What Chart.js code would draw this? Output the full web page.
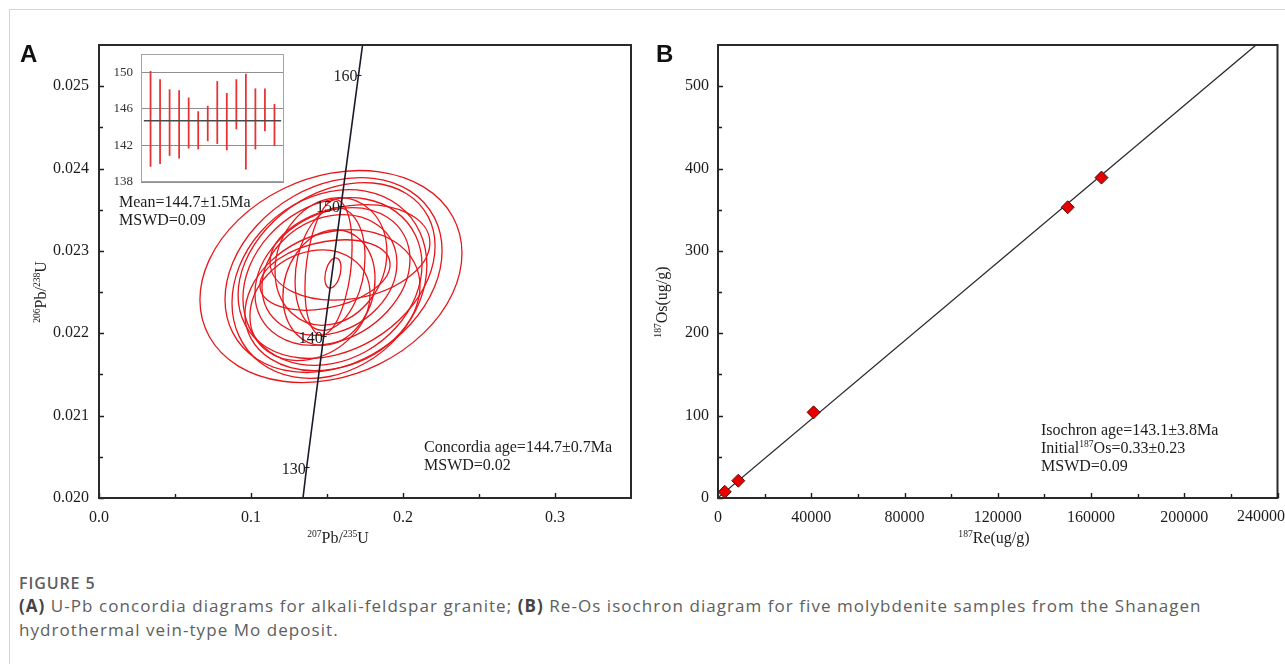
<!DOCTYPE html>
<html>
<head>
<meta charset="utf-8">
<script src="https://cdn.jsdelivr.net/npm/chart.js@4.4.1/dist/chart.umd.min.js"></script>
<style>
  html, body { margin: 0; padding: 0; background: #fff; }
  #page { position: relative; width: 1285px; height: 664px; overflow: hidden; }
  #frame { position: absolute; left: 9px; top: 9px; width: 1400px; height: 800px;
           border-left: 1px solid #d4d4d4; border-top: 1px solid #d4d4d4; }
  canvas { position: absolute; }
  .panel { position: absolute; font: bold 24px "Liberation Sans", Arial, sans-serif; line-height: 24px; color: #111; }
  #caption { position: absolute; left: 19px; top: 573px; font-family: "Open Sans", sans-serif; color: #5e5e5e; }
  #caption .fig { font-size: 16px; font-weight: 600; line-height: 20px; letter-spacing: 0.9px; }
  #caption .txt { font-size: 17px; line-height: 24px; margin-top: 1px; white-space: nowrap; letter-spacing: 1.05px; }
  #caption b { font-weight: 700; color: #444; }
</style>
</head>
<body>
<div id="page">
  <div id="frame"></div>
  <canvas id="chartA" width="645" height="560" style="left:0;top:0"></canvas>
  <canvas id="inset" width="190" height="142" style="left:100px;top:48px"></canvas>
  <canvas id="chartB" width="640" height="560" style="left:645px;top:0"></canvas>
  <div class="panel" style="left:20px;top:42px">A</div>
  <div class="panel" style="left:656px;top:42px">B</div>
  <div id="caption">
    <div class="fig">FIGURE 5</div>
    <div class="txt"><b>(A)</b> U-Pb concordia diagrams for alkali-feldspar granite; <b>(B)</b> Re-Os isochron diagram for five molybdenite samples from the Shanagen<br>hydrothermal vein-type Mo deposit.</div>
  </div>
</div>
<script>
// ---- A: U-Pb concordia ----
const concordiaX = [0.1342, 0.1366, 0.1478, 0.1592, 0.1707, 0.1734];
const concordiaY = [0.0200, 0.02037, 0.02196, 0.02354, 0.02513, 0.0255];
const concordiaAges = ['', '130', '140', '150', '160', ''];

// error ellipses: centre, x half-extent, y half-extent, correlation
const ellX   = [0.1526, 0.1543, 0.1516, 0.1563, 0.1536, 0.1536, 0.1516, 0.1526, 0.1513, 0.1520, 0.1510, 0.1487, 0.1539, 0.1536, 0.1651, 0.1388];
const ellY   = [0.022689, 0.022707, 0.022598, 0.022762, 0.022628, 0.022689, 0.022707, 0.022872, 0.022555, 0.022780, 0.022799, 0.022707, 0.022732, 0.022402, 0.022982, 0.022341];
const ellSx  = [0.0862, 0.0714, 0.0641, 0.0648, 0.0589, 0.0510, 0.0444, 0.0368, 0.0303, 0.0230, 0.0155, 0.0428, 0.0053, 0.0576, 0.0526, 0.0395];
const ellSy  = [0.001287, 0.001183, 0.001146, 0.001067, 0.001018, 0.000835, 0.000732, 0.000774, 0.000701, 0.000744, 0.000823, 0.000427, 0.000183, 0.000854, 0.000579, 0.000671];
const ellRho = [0.22, 0.25, 0.20, 0.28, 0.20, 0.25, 0.20, 0.15, 0.15, 0.20, 0.30, 0.30, 0.35, 0.20, 0.20, 0.20];

const xTicksA = [0, 0.1, 0.2, 0.3];
const xMinorA = [0.05, 0.15, 0.25];
const yTicksA = [0.020, 0.021, 0.022, 0.023, 0.024, 0.025];
const yMinorA = [0.0205, 0.0215, 0.0225, 0.0235, 0.0245];

// inset: weighted mean of spot ages (Ma)
const spotNo   = [1, 2, 3, 4, 5, 6, 7, 8, 9, 10, 11, 12, 13, 14];
const ageLow   = [139.7, 140.0, 140.9, 140.6, 141.7, 141.6, 142.5, 142.2, 141.5, 143.8, 139.4, 141.6, 143.6, 142.0];
const ageHigh  = [150.1, 149.2, 148.1, 148.0, 147.2, 145.7, 146.3, 149.0, 147.7, 149.2, 149.8, 148.2, 148.2, 146.5];
const meanAge  = 144.7;
const insetTicks = [138, 142, 146, 150];

// ---- B: Re-Os isochron ----
const re187 = [2900, 8700, 41000, 150000, 164500];
const os187 = [7.5, 21, 104, 353, 389];
const isoX  = [0, 230800];
const isoY  = [0.33, 550];

const xTicksB = [0, 40000, 80000, 120000, 160000, 200000, 240000];
const xMinorB = [20000, 60000, 100000, 140000, 180000, 220000];
const yTicksB = [0, 100, 200, 300, 400, 500];
const yMinorB = [50, 150, 250, 350, 450];

const SERIF = "'Liberation Serif', 'Times New Roman', serif";
const INK = '#1c1c1c';
const RED = '#e8161b';

function fixBox(size) {
  return s => {
    if (s.isHorizontal()) s.height = size; else s.width = size;
    s.paddingLeft = s.paddingRight = s.paddingTop = s.paddingBottom = 0;
  };
}
function setTicks(list) {
  return s => { s.ticks = list.map(v => ({ value: v })); };
}

// text with superscript parts: [[text, isSup], ...], y is the baseline
function drawRich(ctx, parts, x, y, size, align) {
  const widths = parts.map(([t, sup]) => {
    ctx.font = (sup ? size * 0.6 : size) + 'px ' + SERIF;
    return ctx.measureText(t).width;
  });
  const total = widths.reduce((s, w) => s + w, 0);
  let cx = align === 'center' ? x - total / 2 : align === 'right' ? x - total : x;
  ctx.textAlign = 'left';
  ctx.textBaseline = 'alphabetic';
  parts.forEach(([t, sup], i) => {
    ctx.font = (sup ? size * 0.6 : size) + 'px ' + SERIF;
    ctx.fillText(t, cx, sup ? y - size * 0.36 : y);
    cx += widths[i];
  });
}

// frame + inward ticks
const frameTicks = {
  id: 'frameTicks',
  afterDraw(chart, args, o) {
    const { ctx, chartArea: a, scales: { x, y } } = chart;
    ctx.save();
    ctx.strokeStyle = INK;
    ctx.lineWidth = 1.4;
    ctx.beginPath();
    o.xMajor.concat(o.xMinor).forEach((v, i) => {
      const px = Math.round(x.getPixelForValue(v)) + 0.5;
      const len = i < o.xMajor.length ? 5 : 4;
      ctx.moveTo(px, a.bottom); ctx.lineTo(px, a.bottom - len);
    });
    o.yMajor.concat(o.yMinor).forEach((v, i) => {
      const py = Math.round(y.getPixelForValue(v)) + 0.5;
      const len = i < o.yMajor.length ? 5 : 4;
      ctx.moveTo(a.left, py); ctx.lineTo(a.left + len, py);
    });
    ctx.stroke();
    ctx.lineWidth = 2;
    ctx.strokeStyle = '#2a2a2a';
    ctx.strokeRect(a.left, a.top, a.width, a.height);
    ctx.restore();
  }
};

const tickFont = { family: SERIF, size: 16 };

// ---------- Chart A ----------
const ellipses = {
  id: 'ellipses',
  beforeDatasetsDraw(chart) {
    const { ctx, chartArea: a, scales: { x, y } } = chart;
    const kx = (x.getPixelForValue(x.max) - x.getPixelForValue(x.min)) / (x.max - x.min);
    const ky = (y.getPixelForValue(y.max) - y.getPixelForValue(y.min)) / (y.max - y.min);
    ctx.save();
    ctx.beginPath();
    ctx.rect(a.left, a.top, a.width, a.height);
    ctx.clip();
    ctx.strokeStyle = RED;
    ctx.lineWidth = 1.3;
    ellX.forEach((cx, i) => {
      const r = ellRho[i];
      ctx.beginPath();
      ctx.save();
      ctx.transform(kx * ellSx[i], ky * r * ellSy[i], 0, ky * ellSy[i] * Math.sqrt(1 - r * r),
                    x.getPixelForValue(cx), y.getPixelForValue(ellY[i]));
      ctx.arc(0, 0, 1, 0, Math.PI * 2);
      ctx.restore();
      ctx.stroke();
    });
    ctx.restore();
  },
  afterDraw(chart) {
    const { ctx, chartArea: a, scales: { x, y } } = chart;
    ctx.save();
    ctx.fillStyle = INK;
    ctx.strokeStyle = INK;
    ctx.lineWidth = 1;
    // age marks on concordia
    concordiaAges.forEach((lab, i) => {
      if (!lab) return;
      const px = x.getPixelForValue(concordiaX[i]);
      const py = y.getPixelForValue(concordiaY[i]);
      ctx.beginPath(); ctx.moveTo(px - 2, py); ctx.lineTo(px + 3, py); ctx.stroke();
      drawRich(ctx, [[lab, 0]], px - 1, py + 6, 16, 'right');
    });
    drawRich(ctx, [['Mean=144.7±1.5Ma', 0]], a.left + 20, a.top + 162, 16, 'left');
    drawRich(ctx, [['MSWD=0.09', 0]], a.left + 20, a.top + 180, 16, 'left');
    drawRich(ctx, [['Concordia age=144.7±0.7Ma', 0]], a.left + 325, a.top + 407, 16, 'left');
    drawRich(ctx, [['MSWD=0.02', 0]], a.left + 325, a.top + 425, 16, 'left');
    // axis titles
    drawRich(ctx, [['207', 1], ['Pb/', 0], ['235', 1], ['U', 0]], 338, 543, 16, 'center');
    ctx.translate(46, 292);
    ctx.rotate(-Math.PI / 2);
    drawRich(ctx, [['206', 1], ['Pb/', 0], ['238', 1], ['U', 0]], 0, 0, 16, 'center');
    ctx.restore();
  }
};

new Chart(document.getElementById('chartA'), {
  type: 'scatter',
  data: {
    datasets: [{
      data: concordiaX.map((v, i) => ({ x: v, y: concordiaY[i] })),
      showLine: true, borderColor: '#1a1a28', borderWidth: 1.6, pointRadius: 0
    }]
  },
  options: {
    responsive: false, animation: false, devicePixelRatio: 1,
    layout: { padding: { left: 0, top: 45, right: 14, bottom: 0 } },
    plugins: { legend: { display: false }, tooltip: { enabled: false },
      frameTicks: { xMajor: xTicksA, xMinor: xMinorA, yMajor: yTicksA, yMinor: yMinorA } },
    scales: {
      x: { type: 'linear', min: 0, max: 0.35,
           grid: { display: false, drawTicks: false }, border: { display: false },
           afterBuildTicks: setTicks(xTicksA), afterFit: fixBox(62),
           ticks: { font: tickFont, color: INK, padding: 10, maxRotation: 0, callback: v => v.toFixed(1) } },
      y: { type: 'linear', min: 0.020, max: 0.0255,
           grid: { display: false, drawTicks: false }, border: { display: false },
           afterBuildTicks: setTicks(yTicksA), afterFit: fixBox(99),
           ticks: { font: tickFont, color: INK, padding: 10, callback: v => v.toFixed(3) } }
    }
  },
  plugins: [ellipses, frameTicks]
});

// ---------- inset ----------
const insetBox = {
  id: 'insetBox',
  beforeDraw(chart) {
    const { ctx, chartArea: a } = chart;
    ctx.save();
    ctx.fillStyle = '#fff';
    ctx.fillRect(a.left, a.top, a.width, a.height);
    ctx.restore();
  },
  afterDraw(chart) {
    const { ctx, chartArea: a } = chart;
    ctx.save();
    ctx.strokeStyle = '#a3a3a3';
    ctx.lineWidth = 1;
    ctx.strokeRect(a.left + 0.5, a.top + 0.5, a.width - 1, a.height - 1);
    ctx.restore();
  }
};

new Chart(document.getElementById('inset'), {
  type: 'bar',
  data: {
    datasets: [
      { type: 'line', data: [{ x: 0.3, y: meanAge }, { x: 14.7, y: meanAge }],
        borderColor: '#4a4a4a', borderWidth: 1.3, pointRadius: 0 },
      { data: spotNo.map((n, i) => ({ x: n, y: [ageLow[i], ageHigh[i]] })),
        backgroundColor: '#ea3030', barThickness: 1.1 }
    ]
  },
  options: {
    responsive: false, animation: false, devicePixelRatio: 1,
    layout: { padding: { left: 0, top: 6, right: 6, bottom: 8 } },
    plugins: { legend: { display: false }, tooltip: { enabled: false } },
    scales: {
      x: { type: 'linear', min: 0, max: 15, display: false, offset: false },
      y: { type: 'linear', min: 138, max: 152,
           grid: { color: '#8f8f8f', lineWidth: 1, drawTicks: false }, border: { display: false },
           afterBuildTicks: setTicks(insetTicks), afterFit: fixBox(41),
           ticks: { font: { family: SERIF, size: 13 }, color: '#333', padding: 8 } }
    }
  },
  plugins: [insetBox]
});

// ---------- Chart B ----------
const notesB = {
  id: 'notesB',
  afterDraw(chart) {
    const { ctx, chartArea: a, scales: { x } } = chart;
    ctx.save();
    ctx.fillStyle = INK;
    drawRich(ctx, [['Isochron age=143.1±3.8Ma', 0]], 396, 435, 16, 'left');
    drawRich(ctx, [['Initial', 0], ['187', 1], ['Os=0.33±0.23', 0]], 396, 453, 16, 'left');
    drawRich(ctx, [['MSWD=0.09', 0]], 396, 471, 16, 'left');
    // last x label kept inside the canvas edge
    const last = xTicksB[xTicksB.length - 1];
    drawRich(ctx, [[String(last), 0]], Math.min(x.getPixelForValue(last) + 24, chart.width), a.bottom + 23, 16, 'right');
    drawRich(ctx, [['187', 1], ['Re(ug/g)', 0]], 349, 543, 16, 'center');
    ctx.translate(22, 302);
    ctx.rotate(-Math.PI / 2);
    drawRich(ctx, [['187', 1], ['Os(ug/g)', 0]], 0, 0, 16, 'center');
    ctx.restore();
  }
};

new Chart(document.getElementById('chartB'), {
  type: 'scatter',
  data: {
    datasets: [
      { data: re187.map((v, i) => ({ x: v, y: os187[i] })),
        pointStyle: 'rectRot', pointRadius: 6.5, backgroundColor: '#e60000',
        borderColor: '#5a0a0a', borderWidth: 1, order: 0 },
      { data: isoX.map((v, i) => ({ x: v, y: isoY[i] })),
        showLine: true, borderColor: '#2a2a2a', borderWidth: 1.3, pointRadius: 0, order: 1 }
    ]
  },
  options: {
    responsive: false, animation: false, devicePixelRatio: 1,
    layout: { padding: { left: 0, top: 45, right: 7, bottom: 0 } },
    plugins: { legend: { display: false }, tooltip: { enabled: false },
      frameTicks: { xMajor: xTicksB, xMinor: xMinorB, yMajor: yTicksB, yMinor: yMinorB } },
    scales: {
      x: { type: 'linear', min: 0, max: 240000,
           grid: { display: false, drawTicks: false }, border: { display: false },
           afterBuildTicks: setTicks(xTicksB), afterFit: fixBox(62),
           ticks: { font: tickFont, color: INK, padding: 10, maxRotation: 0,
                    callback: v => (v === xTicksB[xTicksB.length - 1] ? '' : String(v)) } },
      y: { type: 'linear', min: 0, max: 550,
           grid: { display: false, drawTicks: false }, border: { display: false },
           afterBuildTicks: setTicks(yTicksB), afterFit: fixBox(73),
           ticks: { font: tickFont, color: INK, padding: 9, callback: v => String(v) } }
    }
  },
  plugins: [frameTicks, notesB]
});
</script>
</body>
</html>
